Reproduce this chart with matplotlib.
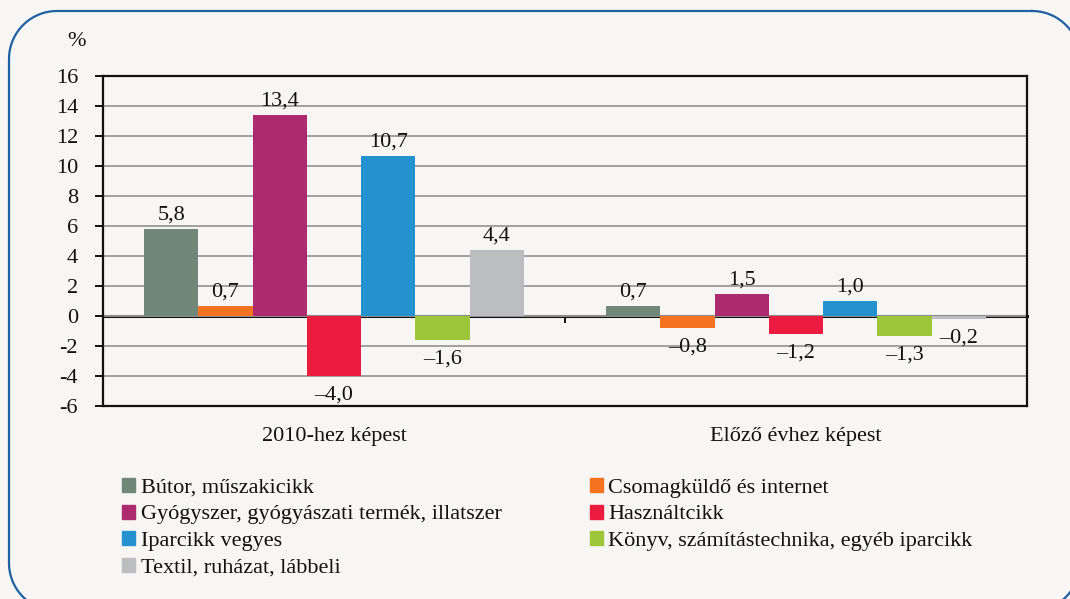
import matplotlib.pyplot as plt
import numpy as np
from matplotlib.patches import Patch

plt.rcParams['font.family'] = ['Liberation Serif', 'DejaVu Serif']
plt.rcParams['axes.unicode_minus'] = False

# data
groups = ['2010-hez képest', 'Előző évhez képest']
series = ['Bútor, műszakicikk', 'Csomagküldő és internet',
          'Gyógyszer, gyógyászati termék, illatszer', 'Használtcikk',
          'Iparcikk vegyes', 'Könyv, számítástechnika, egyéb iparcikk',
          'Textil, ruházat, lábbeli']
vs_2010 = [5.8, 0.7, 13.4, -4.0, 10.7, -1.6, 4.4]
vs_prev = [0.7, -0.8, 1.5, -1.2, 1.0, -1.3, -0.2]
colors = ['#708779', '#f37321', '#ad2a6f', '#ec1b40',
          '#2492cf', '#9dc63b', '#bbbdc0']
yticks = list(range(-6, 17, 2))

bg = '#f7f6f4'
fs = 16
W, H = 1070, 599
fig = plt.figure(figsize=(W / 100, H / 100), dpi=100, facecolor=bg)


# rounded blue frame, drawn in pixel coordinates (y down)
def rounded_rect(x0, y0, x1, y1, r, n=30):
    pts = []
    corners = [(x1 - r, y0 + r, -90, 0), (x1 - r, y1 - r, 0, 90),
               (x0 + r, y1 - r, 90, 180), (x0 + r, y0 + r, 180, 270)]
    for cx, cy, a0, a1 in corners:
        t = np.radians(np.linspace(a0, a1, n))
        pts.append(np.column_stack([cx + r * np.cos(t), cy + r * np.sin(t)]))
    pts = np.vstack(pts + [pts[0][:1]])
    return pts[:, 0], pts[:, 1]


frame = fig.add_axes([0, 0, 1, 1])
frame.set_xlim(0, W)
frame.set_ylim(H, 0)
frame.axis('off')
fx, fy = rounded_rect(9, 11, 1080, 611, 48)
frame.plot(fx, fy, color='#1f60a2', lw=1.6, clip_on=False)

# plot
ax = fig.add_axes([103 / W, 1 - 406 / H, (1027 - 103) / W, (406 - 76) / H])
ax.set_facecolor(bg)

x = np.arange(len(groups))
w = 0.1175
for i, (name, c) in enumerate(zip(series, colors)):
    vals = [vs_2010[i], vs_prev[i]]
    bars = ax.bar(x + (i - 3) * w, vals, w, color=c, label=name, zorder=3)
    for b, v in zip(bars, vals):
        lab = ('%.1f' % abs(v)).replace('.', ',')
        if v < 0:
            lab = '\u2013' + lab
        ax.annotate(lab, (b.get_x() + b.get_width() / 2, v),
                    xytext=(0, 3 if v >= 0 else -7), textcoords='offset points',
                    ha='center', va='bottom' if v >= 0 else 'top',
                    fontsize=fs, color='#111111')

ax.set_xlim(-0.5, 1.5)
ax.set_ylim(-6, 16)
ax.set_yticks(yticks)
ax.set_yticklabels([str(t) for t in yticks])
ax.yaxis.grid(True, color='#9a9a9a', lw=1.3, zorder=0)
ax.set_xticks(x)
ax.set_xticklabels(groups)
ax.tick_params(axis='x', length=0, pad=15, labelsize=fs, labelcolor='#111111')
ax.tick_params(axis='y', length=6, width=1.3, direction='out', labelsize=fs,
               pad=12, labelcolor='#111111')
for s in ax.spines.values():
    s.set_color('#111111')
    s.set_linewidth(1.6)

# zero line with category separator tick
sec = ax.secondary_xaxis(6 / 22)
sec.set_xticks([0.5])
sec.set_xticklabels([''])
sec.tick_params(length=5, width=1.3, direction='out')
sec.spines['bottom'].set_linewidth(2.2)
sec.spines['bottom'].set_color('#111111')
sec.spines['bottom'].set_zorder(5)

fig.text(77 / W, 1 - 41 / H, '%', fontsize=fs, ha='center', va='center',
         color='#111111')

order = [0, 2, 4, 6, 1, 3, 5]
handles = [Patch(color=colors[k]) for k in order]
fig.legend(handles, [series[k] for k in order], ncol=2,
           loc='upper left', bbox_to_anchor=(122 / W, 1 - 478 / H),
           frameon=False, fontsize=fs, handlelength=0.6, handleheight=0.6,
           handletextpad=0.25, labelspacing=0.3, columnspacing=3.95,
           borderaxespad=0, borderpad=0, labelcolor='#111111')

plt.savefig('out.png', dpi=100, facecolor=bg)
